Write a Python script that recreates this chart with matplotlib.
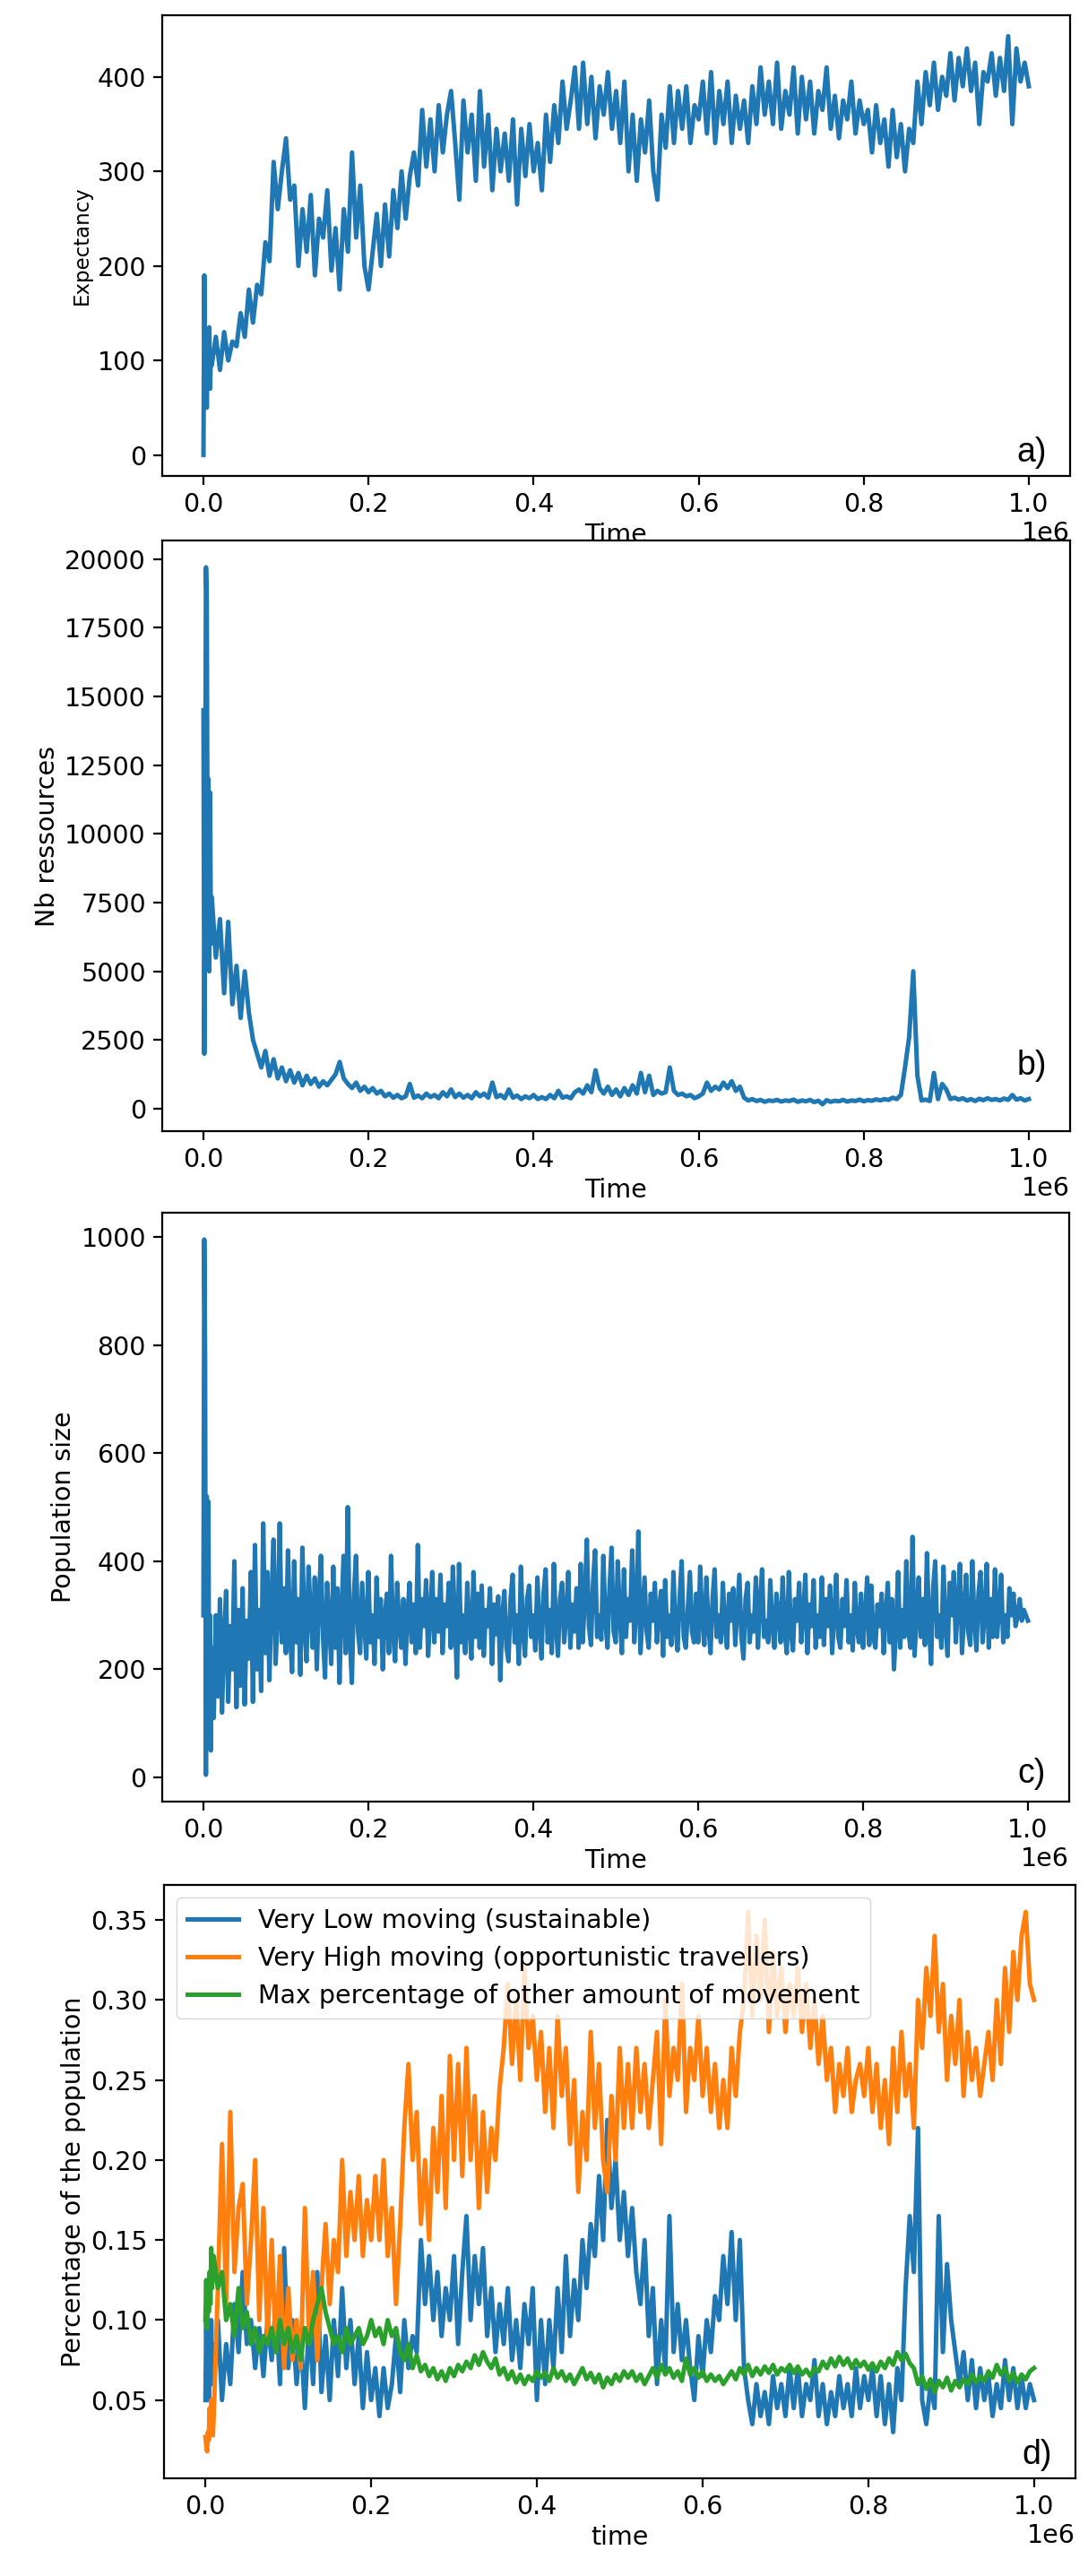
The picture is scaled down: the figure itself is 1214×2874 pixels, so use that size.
import numpy as np
import matplotlib
matplotlib.use("Agg")
import matplotlib.pyplot as plt

# first 10 samples are every 1000 steps, the rest evenly spread up to 1e6
fine_times = [0, 1000, 2000, 3000, 4000, 5000, 6000, 7000, 8000, 9000]

expectancy = [
    0, 190, 60, 130, 50, 120, 90, 135, 70, 110,
    95, 125, 90, 130, 100, 120, 115, 150, 125, 175, 140, 180, 170, 225, 205, 310, 260, 300, 335, 270,
    285, 200, 260, 215, 275, 190, 250, 230, 280, 195, 240, 175, 260, 215, 320, 230, 285, 200, 175, 215,
    255, 200, 265, 210, 280, 240, 300, 250, 295, 320, 285, 365, 305, 355, 300, 370, 320, 360, 385, 330,
    270, 375, 320, 360, 290, 385, 305, 360, 280, 345, 300, 340, 290, 355, 265, 345, 295, 350, 300, 330,
    280, 360, 310, 370, 330, 395, 345, 375, 410, 345, 415, 350, 400, 335, 390, 360, 405, 345, 385, 330,
    395, 300, 360, 290, 355, 320, 375, 300, 270, 360, 325, 390, 330, 385, 345, 390, 330, 370, 355, 395,
    340, 405, 330, 385, 350, 395, 330, 380, 345, 375, 330, 390, 350, 410, 360, 395, 350, 415, 345, 385,
    360, 410, 340, 400, 355, 395, 340, 385, 365, 410, 345, 380, 335, 375, 355, 395, 340, 375, 350, 365,
    320, 370, 330, 355, 305, 365, 315, 350, 300, 345, 330, 395, 350, 405, 370, 415, 365, 400, 380, 425,
    375, 420, 390, 430, 385, 415, 350, 405, 395, 425, 380, 420, 385, 443, 350, 430, 395, 415, 390,
]

resources = [
    14500, 2000, 9000, 19700, 18500, 8000, 12000, 5000, 11500, 6000,
    7700, 5500, 6900, 4200, 6800, 3800, 5200, 3300, 5000, 3500, 2500, 2000, 1500, 2100, 1200, 1800, 1100, 1500, 1000, 1400,
    950, 1300, 850, 1200, 900, 1100, 800, 1000, 850, 1050, 1250, 1700, 1100, 900, 750, 950, 650, 800, 600, 750,
    550, 650, 450, 550, 400, 500, 380, 450, 900, 400, 480, 380, 550, 420, 500, 380, 600, 450, 700, 420,
    550, 400, 500, 380, 600, 450, 550, 400, 950, 420, 500, 380, 700, 400, 480, 350, 450, 380, 500, 350,
    420, 350, 500, 380, 650, 400, 450, 380, 600, 700, 550, 850, 600, 1400, 750, 550, 800, 500, 700, 450,
    750, 500, 850, 550, 1300, 600, 1200, 500, 650, 550, 600, 1500, 650, 500, 550, 450, 500, 380, 450, 550,
    950, 650, 800, 700, 950, 750, 1000, 650, 800, 400, 300, 350, 280, 320, 250, 300, 280, 320, 260, 300,
    280, 330, 250, 300, 270, 320, 240, 290, 160, 310, 250, 290, 270, 320, 260, 300, 280, 330, 270, 310,
    290, 340, 300, 350, 320, 400, 350, 500, 1500, 2600, 5000, 1200, 300, 330, 280, 1300, 350, 900, 700, 350,
    400, 330, 380, 300, 350, 280, 360, 310, 380, 320, 350, 300, 370, 320, 500, 330, 380, 300, 350,
]

# population is sampled twice as often (every 2500 steps after the first 10)
population = [
    300, 995, 780, 5, 520, 180, 510, 60, 300, 50,
    240, 110, 300, 150, 330, 120, 260, 345, 140, 280, 200, 400, 130, 310, 170, 350, 135, 290, 220, 380,
    140, 430, 200, 310, 160, 470, 230, 380, 180, 330, 440, 210, 300, 470, 250, 350, 230, 420, 270, 195,
    400, 250, 330, 190, 425, 280, 215, 390, 300, 240, 370, 200, 330, 410, 260, 185, 360, 290, 210, 390,
    240, 350, 175, 310, 410, 230, 500, 260, 175, 340, 410, 270, 230, 360, 290, 220, 380, 250, 300, 210,
    370, 260, 330, 200, 300, 340, 230, 410, 270, 215, 360, 280, 240, 330, 210, 300, 360, 250, 320, 230,
    430, 240, 330, 280, 365, 225, 300, 380, 250, 330, 270, 375, 230, 320, 280, 360, 240, 390, 290, 185,
    395, 250, 300, 230, 360, 280, 220, 380, 260, 340, 240, 355, 225, 310, 280, 350, 210, 320, 265, 335,
    180, 300, 345, 240, 215, 330, 375, 250, 300, 210, 390, 270, 225, 330, 355, 260, 300, 235, 370, 280,
    220, 340, 385, 250, 310, 230, 395, 280, 225, 330, 360, 250, 300, 380, 240, 320, 270, 350, 240, 395,
    250, 330, 440, 280, 245, 360, 420, 260, 300, 255, 410, 290, 240, 350, 425, 270, 250, 400, 300, 230,
    385, 260, 330, 290, 420, 250, 310, 455, 230, 300, 370, 270, 240, 340, 290, 360, 250, 310, 345, 225,
    365, 260, 300, 245, 380, 280, 235, 330, 400, 260, 240, 310, 380, 270, 250, 340, 250, 390, 290, 245,
    370, 280, 230, 330, 385, 260, 300, 250, 360, 280, 240, 340, 290, 350, 245, 310, 375, 260, 220, 330,
    360, 250, 300, 270, 370, 240, 320, 385, 260, 290, 250, 365, 280, 240, 340, 300, 250, 370, 270, 230,
    380, 270, 235, 330, 290, 360, 250, 300, 375, 230, 320, 280, 365, 240, 300, 260, 370, 245, 330, 280,
    355, 230, 300, 375, 260, 240, 330, 280, 365, 250, 300, 235, 360, 275, 250, 340, 240, 300, 370, 245,
    355, 260, 240, 320, 280, 340, 230, 300, 360, 250, 330, 200, 280, 380, 240, 310, 260, 400, 270, 240,
    445, 225, 300, 370, 260, 330, 245, 415, 280, 210, 350, 400, 260, 300, 240, 390, 280, 225, 360, 300,
    380, 250, 320, 395, 230, 300, 375, 270, 245, 400, 290, 235, 340, 380, 250, 300, 395, 240, 330, 260,
    385, 260, 310, 375, 250, 300, 260, 350, 300, 340, 280, 300, 330, 290, 310, 300, 290,
]

very_low = [
    0.05, 0.1, 0.055, 0.09, 0.05, 0.08, 0.06, 0.1, 0.065, 0.085,
    0.06, 0.1, 0.05, 0.085, 0.06, 0.11, 0.08, 0.13, 0.085, 0.1, 0.07, 0.095, 0.065, 0.1, 0.075, 0.11, 0.06, 0.145, 0.07, 0.1,
    0.06, 0.09, 0.045, 0.1, 0.06, 0.13, 0.055, 0.09, 0.05, 0.1, 0.065, 0.12, 0.07, 0.1, 0.06, 0.09, 0.045, 0.08, 0.05, 0.07,
    0.04, 0.07, 0.045, 0.06, 0.09, 0.055, 0.1, 0.07, 0.09, 0.08, 0.15, 0.11, 0.14, 0.1, 0.13, 0.09, 0.12, 0.1, 0.14, 0.085,
    0.13, 0.165, 0.1, 0.14, 0.11, 0.145, 0.09, 0.12, 0.08, 0.11, 0.085, 0.12, 0.075, 0.1, 0.07, 0.11, 0.085, 0.12, 0.05, 0.1,
    0.06, 0.1, 0.07, 0.12, 0.08, 0.14, 0.09, 0.125, 0.1, 0.15, 0.12, 0.16, 0.14, 0.19, 0.15, 0.225, 0.17, 0.2, 0.15, 0.18,
    0.14, 0.17, 0.13, 0.11, 0.15, 0.09, 0.12, 0.06, 0.1, 0.07, 0.165, 0.08, 0.11, 0.075, 0.1, 0.07, 0.05, 0.09, 0.065, 0.1,
    0.08, 0.115, 0.1, 0.14, 0.11, 0.155, 0.1, 0.15, 0.07, 0.05, 0.035, 0.06, 0.04, 0.055, 0.035, 0.065, 0.045, 0.06, 0.04, 0.07,
    0.045, 0.07, 0.04, 0.06, 0.05, 0.075, 0.04, 0.06, 0.035, 0.055, 0.04, 0.065, 0.045, 0.06, 0.04, 0.07, 0.045, 0.065, 0.05, 0.07,
    0.04, 0.065, 0.035, 0.06, 0.03, 0.07, 0.05, 0.12, 0.165, 0.13, 0.22, 0.05, 0.035, 0.06, 0.045, 0.165, 0.08, 0.135, 0.1, 0.08,
    0.06, 0.08, 0.05, 0.075, 0.045, 0.07, 0.05, 0.065, 0.04, 0.06, 0.045, 0.075, 0.05, 0.07, 0.045, 0.065, 0.045, 0.06, 0.05,
]

very_high = [
    0.027, 0.022, 0.018, 0.03, 0.025, 0.045, 0.03, 0.05, 0.035, 0.028,
    0.04, 0.12, 0.21, 0.11, 0.23, 0.13, 0.17, 0.185, 0.11, 0.15, 0.2, 0.1, 0.17, 0.09, 0.15, 0.08, 0.14, 0.07, 0.12, 0.075,
    0.1, 0.07, 0.17, 0.09, 0.13, 0.075, 0.12, 0.16, 0.11, 0.15, 0.13, 0.2, 0.14, 0.18, 0.15, 0.19, 0.14, 0.175, 0.15, 0.19,
    0.15, 0.2, 0.14, 0.17, 0.11, 0.16, 0.22, 0.26, 0.2, 0.23, 0.16, 0.2, 0.15, 0.22, 0.18, 0.24, 0.17, 0.265, 0.2, 0.26,
    0.19, 0.27, 0.2, 0.24, 0.17, 0.23, 0.18, 0.22, 0.2, 0.245, 0.27, 0.31, 0.26, 0.3, 0.25, 0.32, 0.27, 0.29, 0.25, 0.28,
    0.23, 0.27, 0.22, 0.29, 0.24, 0.27, 0.21, 0.25, 0.18, 0.23, 0.2, 0.28, 0.22, 0.26, 0.2, 0.18, 0.24, 0.2, 0.27, 0.22,
    0.26, 0.22, 0.27, 0.23, 0.26, 0.22, 0.25, 0.28, 0.21, 0.3, 0.24, 0.27, 0.25, 0.31, 0.23, 0.27, 0.25, 0.29, 0.24, 0.27,
    0.23, 0.26, 0.22, 0.25, 0.22, 0.27, 0.24, 0.28, 0.3, 0.355, 0.29, 0.34, 0.3, 0.35, 0.28, 0.33, 0.29, 0.32, 0.28, 0.31,
    0.29, 0.32, 0.28, 0.31, 0.27, 0.3, 0.26, 0.29, 0.25, 0.27, 0.23, 0.26, 0.24, 0.27, 0.23, 0.25, 0.26, 0.24, 0.27, 0.23,
    0.26, 0.22, 0.25, 0.21, 0.27, 0.23, 0.28, 0.24, 0.26, 0.22, 0.3, 0.27, 0.32, 0.29, 0.34, 0.28, 0.31, 0.25, 0.29, 0.26,
    0.3, 0.24, 0.28, 0.25, 0.27, 0.24, 0.26, 0.28, 0.25, 0.3, 0.26, 0.32, 0.28, 0.33, 0.3, 0.34, 0.355, 0.31, 0.3,
]

max_other = [
    0.1, 0.125, 0.095, 0.12, 0.105, 0.13, 0.11, 0.145, 0.12, 0.13,
    0.14, 0.12, 0.13, 0.1, 0.11, 0.09, 0.12, 0.095, 0.105, 0.085, 0.095, 0.08, 0.09, 0.085, 0.095, 0.08, 0.1, 0.085, 0.095, 0.08,
    0.09, 0.075, 0.095, 0.085, 0.1, 0.11, 0.12, 0.105, 0.095, 0.085, 0.09, 0.08, 0.095, 0.085, 0.09, 0.095, 0.085, 0.09, 0.1, 0.09,
    0.095, 0.085, 0.1, 0.09, 0.095, 0.08, 0.075, 0.085, 0.07, 0.078, 0.068, 0.072, 0.065, 0.07, 0.063, 0.068, 0.062, 0.07, 0.065, 0.072,
    0.068, 0.074, 0.07, 0.078, 0.072, 0.08, 0.074, 0.07, 0.076, 0.066, 0.07, 0.063, 0.068, 0.061, 0.066, 0.06, 0.065, 0.062, 0.068, 0.064,
    0.067, 0.062, 0.07, 0.064, 0.068, 0.062, 0.066, 0.06, 0.065, 0.07, 0.063, 0.067, 0.061, 0.066, 0.058, 0.064, 0.06, 0.066, 0.062, 0.068,
    0.064, 0.068, 0.062, 0.066, 0.06, 0.065, 0.07, 0.064, 0.072, 0.066, 0.07, 0.064, 0.068, 0.062, 0.076, 0.066, 0.07, 0.064, 0.068, 0.062,
    0.066, 0.062, 0.065, 0.06, 0.064, 0.068, 0.063, 0.07, 0.066, 0.072, 0.065, 0.07, 0.066, 0.071, 0.067, 0.072, 0.066, 0.07, 0.068, 0.072,
    0.067, 0.071, 0.066, 0.069, 0.065, 0.07, 0.068, 0.074, 0.07, 0.076, 0.071, 0.077, 0.072, 0.076, 0.07, 0.075, 0.071, 0.074, 0.069, 0.073,
    0.068, 0.074, 0.07, 0.076, 0.072, 0.08, 0.075, 0.079, 0.073, 0.07, 0.06, 0.065, 0.057, 0.063, 0.055, 0.062, 0.058, 0.064, 0.056, 0.062,
    0.058, 0.063, 0.06, 0.066, 0.061, 0.065, 0.062, 0.068, 0.064, 0.072, 0.066, 0.07, 0.062, 0.067, 0.061, 0.066, 0.063, 0.068, 0.07,
]

legend_labels = [
    "Very Low moving (sustainable)",
    "Very High moving (opportunistic travellers)",
    "Max percentage of other amount of movement",
]


def times_for(values):
    coarse = np.linspace(10000, 1e6, len(values) - len(fine_times))
    return np.concatenate([fine_times, coarse])


plt.rcParams['font.family'] = ['DejaVu Sans']
plt.rcParams['font.size'] = 20.5
plt.rcParams['axes.linewidth'] = 1.6
plt.rcParams['xtick.major.size'] = 7
plt.rcParams['ytick.major.size'] = 7
plt.rcParams['xtick.major.width'] = 1.6
plt.rcParams['ytick.major.width'] = 1.6
plt.rcParams['xtick.major.pad'] = 6
plt.rcParams['ytick.major.pad'] = 6

W, H = 1214, 2874
fig = plt.figure(figsize=(W / 100, H / 100), dpi=100)


def make_axes(left, right, top, bottom):
    return fig.add_axes([left / W, 1 - bottom / H, (right - left) / W, (bottom - top) / H])


def panel_tag(ax, text, y):
    ax.text(0.974, y, text, transform=ax.transAxes, ha='right', va='bottom',
            fontsize=27, family=['Liberation Sans', 'DejaVu Sans'])


lw = 3.6

ax_a = make_axes(181, 1194, 17, 531)
ax_a.plot(times_for(expectancy), expectancy, color='#1f77b4', lw=lw)
ax_a.set_xlabel("Time", labelpad=4)
ax_a.set_ylabel("Expectancy", fontsize=16.5)
panel_tag(ax_a, "a)", 0.016)

ax_b = make_axes(181, 1194, 603, 1262)
ax_b.plot(times_for(resources), resources, color='#1f77b4', lw=lw)
ax_b.set_xlabel("Time", labelpad=4)
ax_b.set_ylabel("Nb ressources")
panel_tag(ax_b, "b)", 0.083)

ax_c = make_axes(181, 1193, 1353, 2010)
ax_c.plot(times_for(population), population, color='#1f77b4', lw=lw)
ax_c.set_xlabel("Time", labelpad=4)
ax_c.set_ylabel("Population size")
panel_tag(ax_c, "c)", 0.02)

ax_d = make_axes(183, 1200, 2103, 2765)
ax_d.plot(times_for(very_low), very_low, color='#1f77b4', lw=lw, label=legend_labels[0])
ax_d.plot(times_for(very_high), very_high, color='#ff7f0e', lw=lw, label=legend_labels[1])
ax_d.plot(times_for(max_other), max_other, color='#2ca02c', lw=lw, label=legend_labels[2])
ax_d.set_xlabel("time", labelpad=4)
ax_d.set_ylabel("Percentage of the population")
ax_d.legend(loc='upper left')
panel_tag(ax_d, "d)", 0.012)

fig.savefig("out.png", dpi=100)
